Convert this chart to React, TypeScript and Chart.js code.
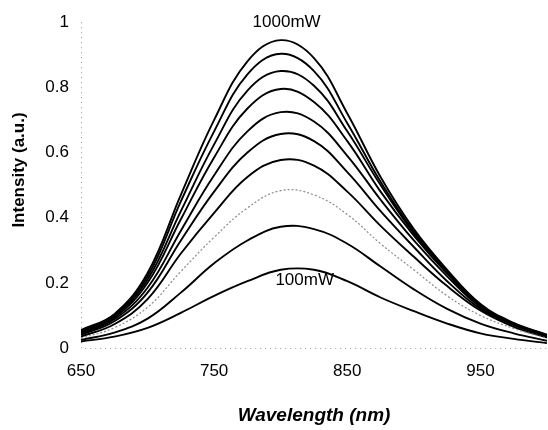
import React, { useEffect, useRef } from "react";
import { Chart, registerables } from "chart.js";

Chart.register(...registerables);

const wavelengths = [650, 675, 700, 725, 750, 775, 800, 825, 850, 875, 900, 925, 950, 975, 1000];

const p100 = [0.02, 0.035, 0.062, 0.108, 0.16, 0.205, 0.24, 0.24, 0.205, 0.155, 0.113, 0.075, 0.045, 0.028, 0.015];
const p200 = [0.025, 0.047, 0.09, 0.17, 0.26, 0.33, 0.372, 0.365, 0.32, 0.25, 0.18, 0.12, 0.075, 0.045, 0.022];
const p300 = [0.03, 0.062, 0.125, 0.235, 0.34, 0.43, 0.483, 0.47, 0.41, 0.32, 0.24, 0.16, 0.1, 0.06, 0.03];
const p400 = [0.035, 0.073, 0.15, 0.29, 0.415, 0.525, 0.577, 0.56, 0.48, 0.375, 0.28, 0.19, 0.115, 0.065, 0.032];
const p500 = [0.04, 0.082, 0.17, 0.33, 0.48, 0.6, 0.657, 0.635, 0.54, 0.42, 0.31, 0.205, 0.12, 0.07, 0.035];
const p600 = [0.043, 0.088, 0.185, 0.36, 0.53, 0.665, 0.724, 0.695, 0.59, 0.455, 0.33, 0.22, 0.125, 0.072, 0.037];
const p700 = [0.046, 0.093, 0.2, 0.395, 0.585, 0.735, 0.795, 0.755, 0.635, 0.48, 0.345, 0.228, 0.128, 0.073, 0.038];
const p800 = [0.05, 0.098, 0.21, 0.42, 0.625, 0.79, 0.85, 0.805, 0.665, 0.5, 0.352, 0.233, 0.13, 0.074, 0.039];
const p900 = [0.052, 0.101, 0.22, 0.45, 0.665, 0.84, 0.903, 0.85, 0.69, 0.51, 0.357, 0.237, 0.132, 0.075, 0.04];
const p1000 = [0.055, 0.104, 0.23, 0.47, 0.7, 0.88, 0.945, 0.89, 0.72, 0.525, 0.365, 0.24, 0.135, 0.077, 0.041];

const seriesNames = ["100mW", "200mW", "300mW", "400mW", "500mW", "600mW", "700mW", "800mW", "900mW", "1000mW"];
const seriesValues = [p100, p200, p300, p400, p500, p600, p700, p800, p900, p1000];

const xTicks = [650, 750, 850, 950];
const yTicks = [0, 0.2, 0.4, 0.6, 0.8, 1];

const annotations = [
  { text: "1000mW", x: 804.4, y: 1.0 },
  { text: "100mW", x: 818, y: 0.208 },
];

const FONT = "'Liberation Sans', Arial, sans-serif";

const labelPlugin = {
  id: "curveLabels",
  beforeDatasetsDraw(chart: any) {
    const { ctx, chartArea } = chart;
    ctx.save();
    ctx.strokeStyle = "#9a9a9a";
    ctx.lineWidth = 1;
    ctx.setLineDash([1, 4]);
    ctx.beginPath();
    const lx = Math.round(chartArea.left) + 0.5;
    const by = Math.round(chartArea.bottom) + 0.5;
    ctx.moveTo(lx, chartArea.top);
    ctx.lineTo(lx, by);
    ctx.lineTo(chartArea.right, by);
    ctx.stroke();
    ctx.restore();
  },
  afterDraw(chart: any) {
    const { ctx, scales } = chart;
    ctx.save();
    ctx.fillStyle = "#000";
    ctx.font = `17px ${FONT}`;
    ctx.textAlign = "center";
    ctx.textBaseline = "middle";
    for (const a of annotations) {
      ctx.fillText(a.text, scales.x.getPixelForValue(a.x), scales.y.getPixelForValue(a.y));
    }
    ctx.font = `bold 17px ${FONT}`;
    ctx.translate(19, 170);
    ctx.rotate(-Math.PI / 2);
    ctx.fillText("Intensity (a.u.)", 0, 0);
    ctx.restore();
  },
};

export default function App() {
  const ref = useRef<HTMLCanvasElement>(null);
  useEffect(() => {
    document.body.style.margin = "0";
    const canvas = ref.current!;
    const datasets = seriesValues.map((vals, i) => {
      const dotted = seriesNames[i] === "300mW";
      return {
        label: seriesNames[i],
        data: vals.map((v, j) => ({ x: wavelengths[j], y: v })),
        borderColor: dotted ? "#8a8a8a" : "#000",
        borderWidth: dotted ? 1.2 : 1.9,
        borderDash: dotted ? [2, 2] : [],
        pointRadius: 0,
        tension: 0.4,
        fill: false,
      };
    });
    const chart = new Chart(canvas, {
      type: "line",
      data: { datasets },
      options: {
        animation: false,
        responsive: false,
        devicePixelRatio: 1,
        layout: { padding: { top: 21, right: 1, bottom: 0, left: 0 } },
        plugins: { legend: { display: false }, tooltip: { enabled: false } },
        scales: {
          x: {
            type: "linear",
            min: 650,
            max: 1000,
            afterBuildTicks: (s: any) => {
              s.ticks = xTicks.map((v) => ({ value: v }));
            },
            afterFit: (s: any) => {
              s.height = 82;
            },
            grid: { display: false, drawTicks: false },
            border: { display: false },
            ticks: {
              color: "#000",
              font: { family: FONT, size: 17 },
              padding: 13,
              maxRotation: 0,
              callback: (v: any) => String(v),
            },
            title: {
              display: true,
              text: "Wavelength (nm)",
              color: "#000",
              font: { family: FONT, size: 19, weight: "bold", style: "italic" },
              padding: { top: 0, bottom: 3 },
            },
          },
          y: {
            type: "linear",
            min: 0,
            max: 1,
            afterBuildTicks: (s: any) => {
              s.ticks = yTicks.map((v) => ({ value: v }));
            },
            afterFit: (s: any) => {
              s.width = 81;
            },
            grid: { display: false, drawTicks: false },
            border: { display: false },
            ticks: {
              color: "#000",
              font: { family: FONT, size: 17 },
              padding: 12,
              callback: (v: any) => String(v),
            },
          },
        },
      },
      plugins: [labelPlugin],
    });
    return () => chart.destroy();
  }, []);
  return (
    <div style={{ width: 548, height: 430 }}>
      <canvas ref={ref} width={548} height={430} style={{ display: "block" }} />
    </div>
  );
}
